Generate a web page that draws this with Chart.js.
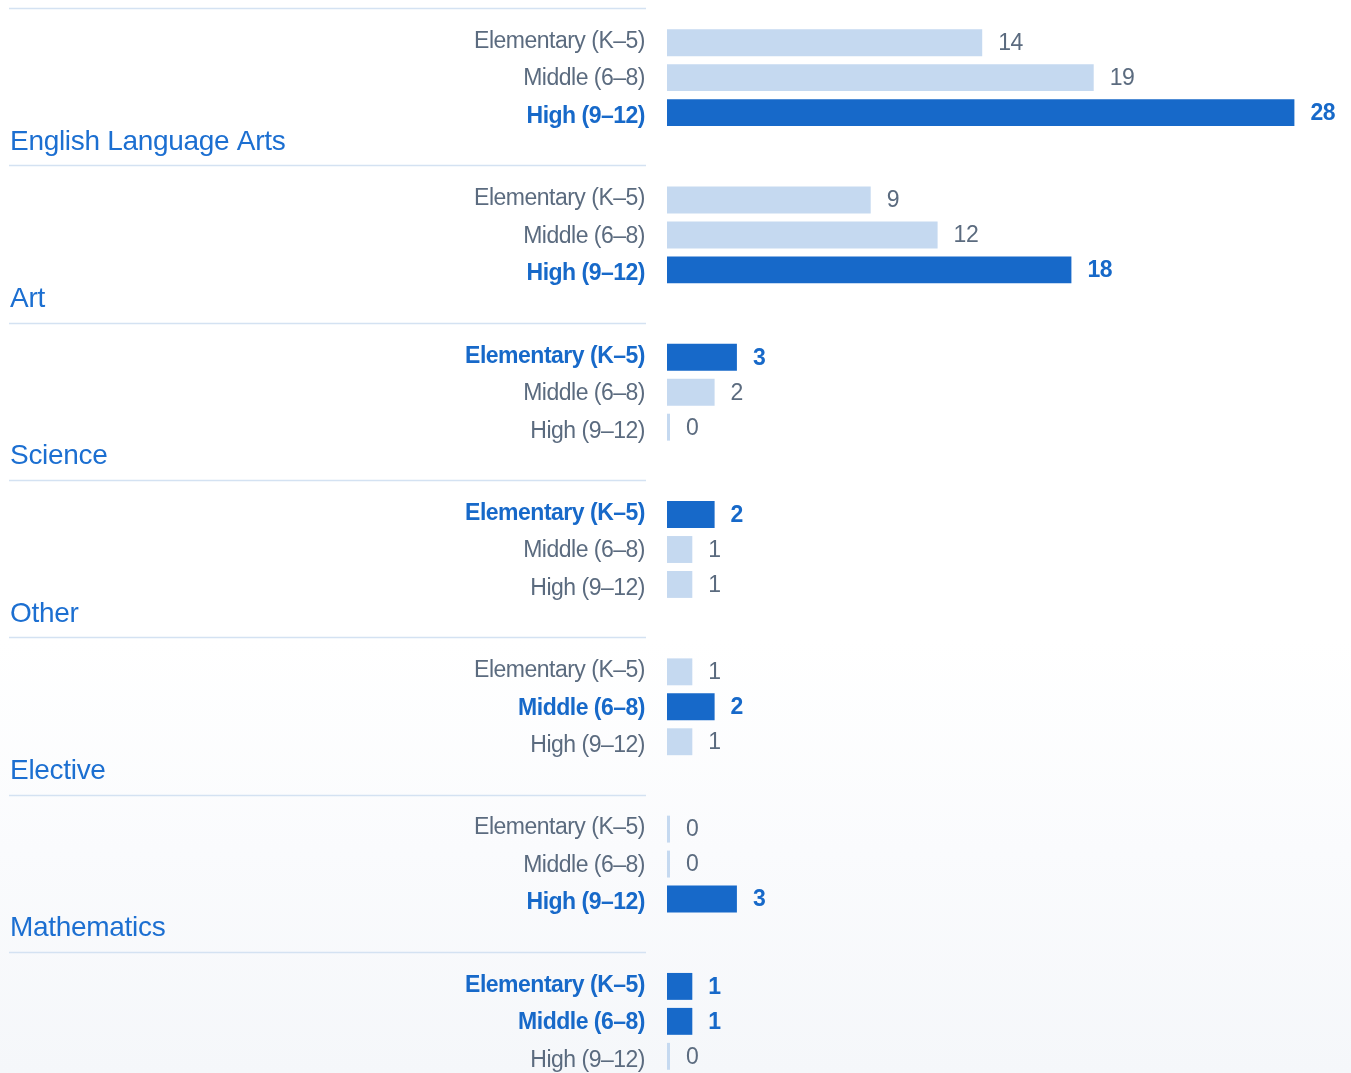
<!DOCTYPE html>
<html>
<head>
<meta charset="utf-8">
<script src="https://cdn.jsdelivr.net/npm/chart.js@4.4.1/dist/chart.umd.min.js"></script>
<style>
  html, body { margin: 0; padding: 0; overflow: hidden; width: 1351px; height: 1073px; }
  body { background: linear-gradient(to bottom, #ffffff 0px, #ffffff 640px, #fafbfd 850px, #f5f7fa 1073px); }
  #wrap { position: absolute; left: 0; top: -1px; width: 1351px; height: 1101px; }
</style>
</head>
<body>
<div id="wrap"><canvas id="c"></canvas></div>
<script>
// ---- data ----
const subjects = ["English Language Arts", "Art", "Science", "Other", "Elective", "Mathematics", ""];
const gradeLabels = ["Elementary (K\u20135)", "Middle (6\u20138)", "High (9\u201312)"];
const elementary = [14, 9, 3, 2, 1, 0, 1];
const middle     = [19, 12, 2, 1, 2, 0, 1];
const high       = [28, 18, 0, 1, 1, 3, 0];

// ---- styles ----
const DARK = '#1769C9';
const LIGHT = '#C5D9F0';
const GRAY = '#5B6B7F';
const GROUP_BLUE = '#1C6FD1';
const SEP = '#D4E2F2';
const FONT = '"Liberation Sans", Arial, sans-serif';

const series = [elementary, middle, high];
function groupMax(i) { return Math.max(elementary[i], middle[i], high[i]); }
function isHi(dsIndex, i) { const v = series[dsIndex][i]; return v > 0 && v === groupMax(i); }

const BASE = -0.135;

const textPlugin = {
  id: 'texts',
  afterDatasetsDraw(chart) {
    const ctx = chart.ctx;
    const y = chart.scales.y;
    ctx.save();
    // separators and group labels
    subjects.forEach((s, g) => {
      const c = y.getPixelForValue(g);
      const ly = Math.round(c - 69.5) + 0.5;
      ctx.strokeStyle = SEP;
      ctx.lineWidth = 1.5;
      ctx.beginPath();
      ctx.moveTo(9, ly);
      ctx.lineTo(646, ly);
      ctx.stroke();
      ctx.fillStyle = GROUP_BLUE;
      ctx.font = '28px ' + FONT;
      ctx.letterSpacing = '-0.3px';
      ctx.textAlign = 'left';
      ctx.textBaseline = 'alphabetic';
      ctx.fillText(s, 10, c + 72);
    });
    // row labels & values
    series.forEach((arr, k) => {
      const meta = chart.getDatasetMeta(k);
      meta.data.forEach((bar, i) => {
        const hi = isHi(k, i);
        ctx.letterSpacing = '-0.5px';
        ctx.textBaseline = 'middle';
        ctx.textAlign = 'right';
        ctx.fillStyle = hi ? DARK : GRAY;
        ctx.font = (hi ? 'bold ' : '') + '23px ' + FONT;
        ctx.fillText(gradeLabels[k], 645, bar.y + 1.5 + (k - 1) * 2.5);
        ctx.textAlign = 'left';
        ctx.letterSpacing = '-0.4px';
        ctx.font = (hi ? 'bold ' : '') + '23px ' + FONT;
        ctx.fillText(String(arr[i]), bar.x + 16, bar.y + 1);
      });
    });
    ctx.restore();
  }
};

function colorFn(k) {
  return (c) => isHi(k, c.dataIndex) ? DARK : LIGHT;
}

new Chart(document.getElementById('c'), {
  type: 'bar',
  data: {
    labels: subjects,
    datasets: gradeLabels.map((lab, k) => ({
      label: lab,
      data: series[k],
      backgroundColor: colorFn(k),
      borderWidth: 0,
      base: BASE,
      categoryPercentage: 0.6667,
      barPercentage: 0.77
    }))
  },
  options: {
    indexAxis: 'y',
    responsive: true,
    maintainAspectRatio: false,
    animation: false,
    layout: { padding: { left: 667, right: 12, top: 0, bottom: 0 } },
    plugins: { legend: { display: false }, tooltip: { enabled: false } },
    scales: {
      x: { display: false, min: BASE, max: 30 },
      y: { display: false, offset: true }
    }
  },
  plugins: [textPlugin]
});
</script>
</body>
</html>
